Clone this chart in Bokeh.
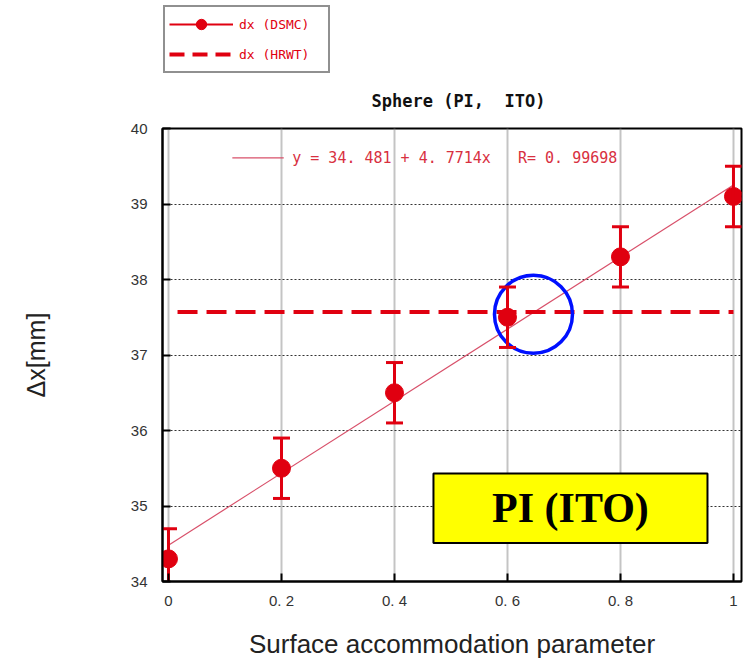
from bokeh.plotting import figure
from bokeh.layouts import column
from bokeh.models import (Range1d, FixedTicker, Whisker, ColumnDataSource, TeeHead,
                          Legend, LegendItem, BoxAnnotation, Label)
from bokeh.embed import file_html
from bokeh.resources import INLINE

# ---- data ----
param = [0.0, 0.2, 0.4, 0.6, 0.8, 1.0]
dx_dsmc = [34.3, 35.5, 36.5, 37.5, 38.3, 39.1]
dx_err = [0.4, 0.4, 0.4, 0.4, 0.4, 0.4]
dx_hrwt = 37.57
hrwt_span = [0.016, 1.0]
fit_a = 34.481
fit_b = 4.7714
fit_r = 0.99698
x_ticks = [0.0, 0.2, 0.4, 0.6, 0.8, 1.0]
x_tick_labels = ["0", "0. 2", "0. 4", "0. 6", "0. 8", "1"]
y_ticks = [34, 35, 36, 37, 38, 39, 40]
title_text = "Sphere (PI,\u00a0\u00a0ITO)"
series_labels = ["dx\u00a0(DSMC)", "dx\u00a0(HRWT)"]

RED = "#e00010"
FIT = "#d8506a"
NB = "\u00a0"

BL, BR = 162, 3  # left / right borders (frame from 162 to 741)

# ---------------- header figure (legend + title) ----------------
TOP_H = 120
hdr = figure(width=744, height=TOP_H, output_backend="svg", toolbar_location=None,
             x_range=Range1d(BL, 744 - BR), y_range=Range1d(TOP_H, 0),
             min_border_left=BL, min_border_right=BR,
             min_border_top=0, min_border_bottom=0)
hdr.axis.visible = False
hdr.grid.visible = False
hdr.outline_line_color = None

# legend proxies (drawn off-screen, only used for the legend glyphs)
off = [-100, -90]
lg_line = hdr.line(off, off, line_color=RED, line_width=2)
lg_pts = hdr.scatter([-95], [-95], size=18, fill_color=RED, line_color=RED)
lg_dash = hdr.line(off, off, line_color=RED, line_width=4, line_dash="15 8")

legend = Legend(items=[LegendItem(label=series_labels[0], renderers=[lg_line, lg_pts]),
                       LegendItem(label=series_labels[1], renderers=[lg_dash])],
                location=(1, TOP_H - 73), margin=0, padding=4, spacing=4,
                glyph_width=64, glyph_height=26, label_standoff=6,
                label_width=85, label_text_font="DejaVu Sans Mono",
                label_text_font_size="13px", label_text_color=RED,
                label_text_baseline="middle",
                border_line_color="#222222", border_line_width=2,
                background_fill_alpha=1.0)
hdr.add_layout(legend)

hdr.add_layout(Label(x=458, y=100, text=title_text,
                     text_font="DejaVu Sans Mono", text_font_style="bold",
                     text_font_size="17px", text_color="#111111",
                     text_align="center", text_baseline="middle"))

# ---------------- main figure ----------------
p = figure(width=744, height=661 - TOP_H, output_backend="svg", toolbar_location=None,
           x_range=Range1d(-0.0106, 1.0142), y_range=Range1d(34, 40),
           min_border_left=BL, min_border_right=BR, min_border_top=128 - TOP_H,
           min_border_bottom=79, background_fill_color="white",
           border_fill_color="white")

p.outline_line_color = "black"
p.outline_line_width = 2

p.xaxis.ticker = FixedTicker(ticks=x_ticks)
p.xaxis.major_label_overrides = {t: s for t, s in zip(x_ticks, x_tick_labels)}
p.yaxis.ticker = FixedTicker(ticks=y_ticks)
for ax in (p.xaxis[0], p.yaxis[0]):
    ax.axis_line_color = "black"
    ax.axis_line_width = 2
    ax.major_tick_in = 8
    ax.major_tick_out = 0
    ax.major_tick_line_color = "black"
    ax.major_tick_line_width = 2
    ax.minor_tick_line_color = None
    ax.major_label_text_font = "Liberation Sans"
    ax.major_label_text_font_size = "15px"
    ax.major_label_text_color = "#333333"
p.xaxis.major_label_standoff = 10
p.yaxis.major_label_standoff = 15

p.xaxis.axis_label = "Surface accommodation parameter"
p.xaxis.axis_label_text_font = "Liberation Sans"
p.xaxis.axis_label_text_font_style = "normal"
p.xaxis.axis_label_text_font_size = "26px"
p.xaxis.axis_label_text_color = "#222222"
p.xaxis.axis_label_standoff = 17

p.yaxis.axis_label = "Δx[mm]"
p.yaxis.axis_label_text_font = "Liberation Sans"
p.yaxis.axis_label_text_font_style = "normal"
p.yaxis.axis_label_text_font_size = "25px"
p.yaxis.axis_label_text_color = "#222222"
p.yaxis.axis_label_standoff = 78

p.xgrid.ticker = FixedTicker(ticks=x_ticks)
p.xgrid.grid_line_color = "#8a8a8a"
p.xgrid.grid_line_width = 2
p.xgrid.grid_line_dash = "1 1"
p.ygrid.ticker = FixedTicker(ticks=y_ticks)
p.ygrid.grid_line_color = "#333333"
p.ygrid.grid_line_width = 1
p.ygrid.grid_line_dash = "2 2"

# fit line
fit_x = [min(param), max(param)]
fit_y = [fit_a + fit_b * v for v in fit_x]
p.line(fit_x, fit_y, line_color=FIT, line_width=1.2)

# HRWT dashed
p.line(hrwt_span, [dx_hrwt, dx_hrwt], line_color=RED, line_width=4, line_dash="20 9")

# error bars + points
src = ColumnDataSource(dict(x=param, y=dx_dsmc,
                            lo=[v - e for v, e in zip(dx_dsmc, dx_err)],
                            hi=[v + e for v, e in zip(dx_dsmc, dx_err)]))
p.add_layout(Whisker(source=src, base="x", lower="lo", upper="hi",
                     line_color=RED, line_width=3,
                     upper_head=TeeHead(size=17, line_color=RED, line_width=3),
                     lower_head=TeeHead(size=17, line_color=RED, line_width=3),
                     level="glyph"))
p.scatter("x", "y", source=src, size=18, fill_color=RED, line_color=RED)

# fit annotation
ann_y = 39.61
p.line([0.113, 0.204], [ann_y, ann_y], line_color=FIT, line_width=1.2)
ann_text = (f"y = {fit_a} + {fit_b}x{NB*3}R= {fit_r}").replace(".", ". ").replace(" ", NB)
p.add_layout(Label(x=0.219, y=ann_y, text=ann_text, text_font="DejaVu Sans Mono",
                   text_font_size="15px", text_color="#d8303f",
                   text_baseline="middle"))

# yellow box
p.add_layout(BoxAnnotation(left=0.469, right=0.954, bottom=34.51, top=35.43,
                           fill_color="#ffff00", fill_alpha=1.0,
                           line_color="black", line_width=2, line_alpha=1.0))
p.add_layout(Label(x=0.7115, y=34.97, text="PI (ITO)", text_font="Liberation Serif",
                   text_font_style="bold", text_font_size="42px",
                   text_color="black", text_align="center",
                   text_baseline="middle"))

# blue circle
p.scatter([0.646], [37.54], size=78, fill_alpha=0, line_color="#0010ff",
          line_width=3.5)

layout = column(hdr, p, spacing=0)
open("out.html", "w").write(file_html(layout, INLINE))
